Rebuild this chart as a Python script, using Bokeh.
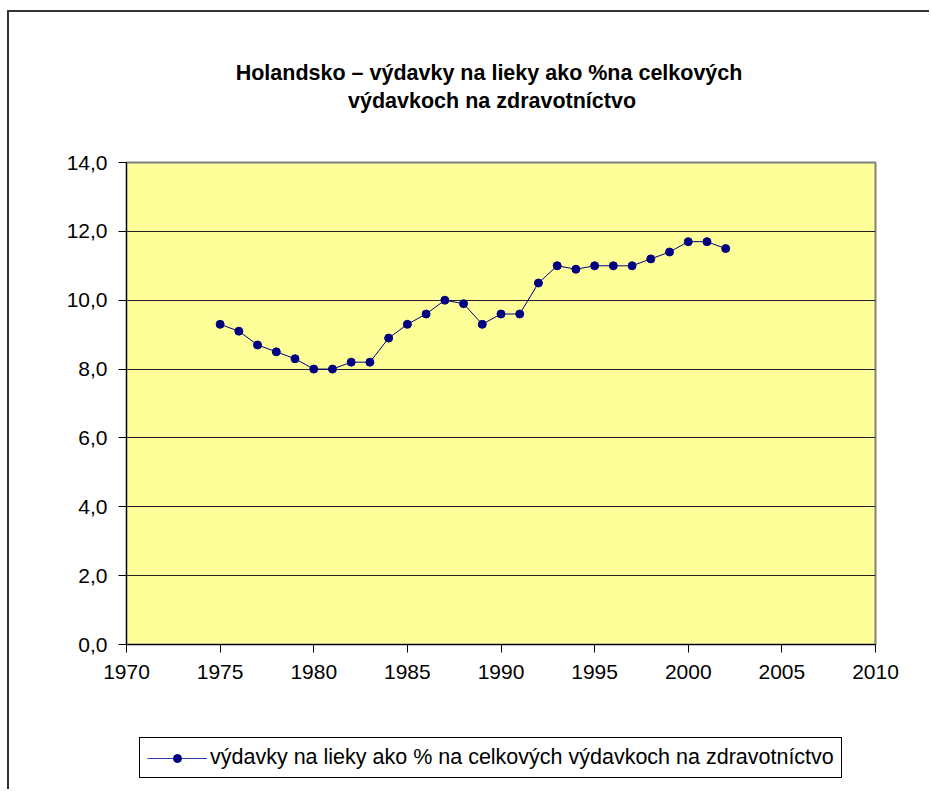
from bokeh.plotting import figure
from bokeh.models import Legend, LegendItem, FixedTicker, Range1d, Title
from bokeh.layouts import column
from bokeh.embed import file_html
from bokeh.resources import INLINE

years = list(range(1975, 2003))
values = [9.3, 9.1, 8.7, 8.5, 8.3, 8.0, 8.0, 8.2, 8.2, 8.9, 9.3, 9.6, 10.0, 9.9,
          9.3, 9.6, 9.6, 10.5, 11.0, 10.9, 11.0, 11.0, 11.0, 11.2, 11.4, 11.7, 11.7, 11.5]
x_ticks = [1970, 1975, 1980, 1985, 1990, 1995, 2000, 2005, 2010]
y_ticks = [0, 2, 4, 6, 8, 10, 12, 14]
y_tick_labels = ["0,0", "2,0", "4,0", "6,0", "8,0", "10,0", "12,0", "14,0"]
title_lines = ["Holandsko – výdavky na lieky ako %na celkových", "výdavkoch na zdravotníctvo"]
series_name = "výdavky na lieky ako % na celkových výdavkoch na zdravotníctvo"

FONT = "Liberation Sans"
NB = "\u00a0"  # trailing padding shifts each centred title line a little left, as in the original

p = figure(frame_width=749, frame_height=482, output_backend="svg", toolbar_location=None,
           x_range=Range1d(1970, 2010), y_range=Range1d(0, 14),
           min_border_left=117, min_border_right=56, min_border_top=150, min_border_bottom=59)
p.background_fill_color = "#FFFF99"
p.border_fill_color = "white"
p.outline_line_color = "#808080"
p.outline_line_width = 2

# above panels, from the plot outward: blank spacer, title line 2, figure title (line 1)
spacer = Title(text=NB, text_font_size="1px", standoff=46)
p.add_layout(spacer, "above")
t2 = Title(text=title_lines[1] + NB * 3, standoff=2)
p.add_layout(t2, "above")
p.title.text = title_lines[0] + NB * 4
p.title.standoff = 2
for t in (p.title, t2):
    t.text_font = FONT
    t.text_font_size = "21.5px"
    t.text_font_style = "bold"
    t.text_color = "black"
    t.align = "center"

p.xaxis.ticker = FixedTicker(ticks=x_ticks)
p.yaxis.ticker = FixedTicker(ticks=y_ticks)
p.yaxis.major_label_overrides = {t: l for t, l in zip(y_ticks, y_tick_labels)}
for ax in (p.xaxis, p.yaxis):
    ax.axis_line_color = "black"
    ax.major_tick_line_color = "black"
    ax.major_tick_out = 8
    ax.major_tick_in = 0
    ax.minor_tick_line_color = None
    ax.major_label_text_font = FONT
    ax.major_label_text_font_size = "21px"
    ax.major_label_text_color = "black"
p.yaxis.major_label_standoff = 11
p.xaxis.major_label_standoff = 12

p.xgrid.grid_line_color = None
p.ygrid.grid_line_color = "#202020"
p.ygrid.grid_line_width = 1

p.line(years, values, line_color="#000080", line_width=1)
p.scatter(years, values, size=8, fill_color="#000080", line_color="#000080")

# legend strip below the chart (its frame is aligned with the chart's frame by the column)
lg = figure(width=922, height=88, output_backend="svg", toolbar_location=None,
            x_range=Range1d(0, 1), y_range=Range1d(0, 1),
            x_axis_type=None, y_axis_type=None, min_border=0)
lg.outline_line_color = None
lg.background_fill_color = "white"
lg.border_fill_color = "white"
# legend-only renderers: their point lies outside this strip's ranges, so only the key shows
k_line = lg.line(years[:2], values[:2], line_color="#3333AA", line_width=1)
k_pts = lg.scatter(years[:1], values[:1], size=6, fill_color="#000080", line_color="#000080")
legend = Legend(items=[LegendItem(label=series_name, renderers=[k_line, k_pts])],
                location=(13, 13), orientation="horizontal",
                border_line_color="black", border_line_width=1, border_line_alpha=1,
                label_text_font=FONT, label_text_font_size="21.5px", label_text_color="black",
                padding=7, margin=0, glyph_width=60, glyph_height=20,
                label_standoff=3, label_height=20,
                background_fill_color="white", background_fill_alpha=1)
lg.add_layout(legend, "center")

layout = column(p, lg, spacing=0)
layout.styles = {"margin-left": "9px", "margin-top": "12px", "box-shadow": "-2px -2px 0 0 #333333"}

open("out.html", "w").write(file_html(layout, INLINE))
